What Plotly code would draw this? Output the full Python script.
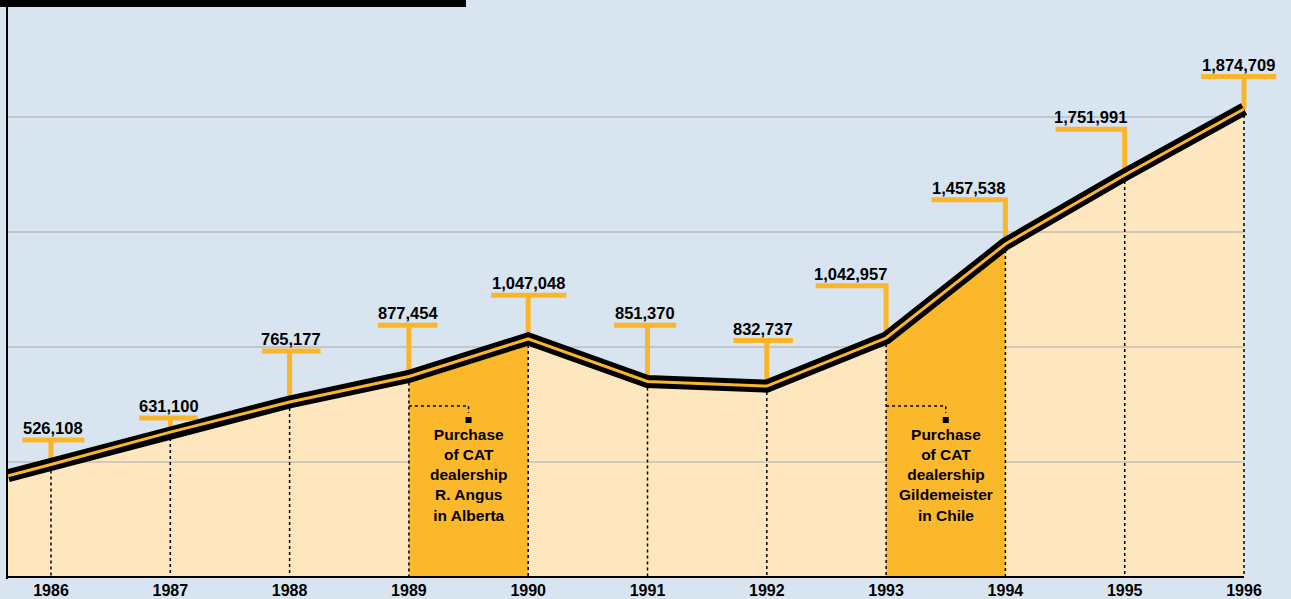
import plotly.graph_objects as go

# ---------------- data ----------------
years = [1986, 1987, 1988, 1989, 1990, 1991, 1992, 1993, 1994, 1995, 1996]
value_labels = ["526,108", "631,100", "765,177", "877,454", "1,047,048", "851,370",
                "832,737", "1,042,957", "1,457,538", "1,751,991", "1,874,709"]
# level at which the drawn line sits for each year (0-based axis)
line_level = [489000, 630000, 761000, 872000, 1035000, 850000, 830000,
              1039000, 1448000, 1748000, 2035000]
axis_start_level = 440000          # where the line meets the left axis
grid_levels = [500000, 1000000, 1500000, 2000000]

acq_start = [1989, 1993]
acq_end = [1990, 1994]
acq_text = ["Purchase<br>of CAT<br>dealership<br>R. Angus<br>in Alberta",
            "Purchase<br>of CAT<br>dealership<br>Gildemeister<br>in Chile"]

# label tag placement (styling)
tag_level = [596000, 691000, 983000, 1095000, 1225000, 1095000, 1028000,
             1266000, 1640000, 1947000, 2176000]
tag_left = [-0.24, -0.26, -0.23, -0.26, -0.31, -0.28, -0.28, -0.59, -0.62, -0.58, -0.36]
tag_right = [0.28, 0.23, 0.26, 0.24, 0.32, 0.24, 0.22, 0.0, 0.0, 0.0, 0.27]

# ---------------- style ----------------
BG = "#d8e5f0"
LIGHT = "#fee6bf"
DARK = "#fcb82b"
ORANGE = "#fbb52a"
GRID = "#a6abb0"
FONT = "Liberation Sans, Arial, sans-serif"

W, H = 1291, 599
ML, MR, MT, MB = 8, 0, 0, 20
PX = 500000 / 115.0                  # data units per pixel
X_MIN = 1986 - 43 / 119.3
X_MAX = 1996 + 47 / 119.3
Y_MIN, Y_MAX = -2 * PX, 577 * PX

fig = go.Figure()

x_line = [X_MIN] + years
y_line = [axis_start_level] + line_level

# light fill
fig.add_trace(go.Scatter(x=x_line, y=y_line, mode="lines", fill="tozeroy",
                         fillcolor=LIGHT, line=dict(width=0, color=LIGHT),
                         hoverinfo="skip"))
# gridlines
gx, gy = [], []
for g in grid_levels:
    gx += [X_MIN, years[-1], None]
    gy += [g, g, None]
fig.add_trace(go.Scatter(x=gx, y=gy, mode="lines", line=dict(width=1.2, color=GRID),
                         hoverinfo="skip"))
# dark fills for acquisition years
for s, e in zip(acq_start, acq_end):
    i0, i1 = years.index(s), years.index(e)
    fig.add_trace(go.Scatter(x=years[i0:i1 + 1], y=line_level[i0:i1 + 1], mode="lines",
                             fill="tozeroy", fillcolor=DARK,
                             line=dict(width=0, color=DARK), hoverinfo="skip"))
# bottom axis line
fig.add_trace(go.Scatter(x=[X_MIN, years[-1]], y=[0, 0], mode="lines",
                         line=dict(width=2, color="black"), hoverinfo="skip"))
# dotted verticals
dx, dy = [], []
for yr, lv in zip(years, line_level):
    dx += [yr, yr, None]
    dy += [lv, 0, None]
fig.add_trace(go.Scatter(x=dx, y=dy, mode="lines",
                         line=dict(width=1.5, color="black", dash="3px,3px"),
                         hoverinfo="skip"))
# acquisition connectors
CONN_Y = (577 - 406) * PX
CONN_Y2 = (577 - 413) * PX
SQ_Y = (577 - 420) * PX
TXT_Y = (577 - 424) * PX
cx, cy, sx, sy = [], [], [], []
for s in acq_start:
    mid = s + 0.5
    cx += [s, mid, mid, None]
    cy += [CONN_Y, CONN_Y, CONN_Y2, None]
    sx.append(mid)
    sy.append(SQ_Y)
fig.add_trace(go.Scatter(x=cx, y=cy, mode="lines",
                         line=dict(width=1.5, color="black", dash="3px,3px"),
                         hoverinfo="skip"))
fig.add_trace(go.Scatter(x=sx, y=sy, mode="markers",
                         marker=dict(symbol="square", size=6, color="black",
                                     line=dict(width=0)), hoverinfo="skip"))
# label tags (T / L shapes)
tx, ty = [], []
for yr, lv, tl, tr, tlv in zip(years, line_level, tag_left, tag_right, tag_level):
    if tr == 0.0:
        tx += [yr + tl, yr, yr, None]
        ty += [tlv, tlv, lv, None]
    else:
        tx += [yr + tl, yr + tr, None, yr, yr, None]
        ty += [tlv, tlv, None, tlv, lv, None]
fig.add_trace(go.Scatter(x=tx, y=ty, mode="lines",
                         line=dict(width=5, color=ORANGE), hoverinfo="skip"))
# main line
fig.add_trace(go.Scatter(x=x_line, y=y_line, mode="lines",
                         line=dict(width=13, color="black"), hoverinfo="skip"))
fig.add_trace(go.Scatter(x=x_line, y=y_line, mode="lines",
                         line=dict(width=3, color=ORANGE), hoverinfo="skip"))

annotations = []
for yr, lab, tl, tr, tlv in zip(years, value_labels, tag_left, tag_right, tag_level):
    annotations.append(dict(x=yr + (tl + tr) / 2, y=tlv, xref="x", yref="y",
                            text=lab, showarrow=False, xanchor="center",
                            yanchor="middle", yshift=12,
                            font=dict(family=FONT, size=16.5, color="black", weight="bold")))
for s, t in zip(acq_start, acq_text):
    annotations.append(dict(x=s + 0.5, y=TXT_Y, xref="x", yref="y", text=t,
                            showarrow=False, xanchor="center", yanchor="top",
                            align="center",
                            font=dict(family=FONT, size=15.5, color="black", weight="bold")))

fig.update_layout(
    width=W, height=H,
    margin=dict(l=ML, r=MR, t=MT, b=MB, pad=0),
    paper_bgcolor=BG, plot_bgcolor="rgba(0,0,0,0)",
    showlegend=False,
    annotations=annotations,
    shapes=[dict(type="rect", xref="paper", yref="paper",
                 x0=-ML / (W - ML), x1=(466 - ML) / (W - ML),
                 y0=1 - 7 / (H - MB), y1=1,
                 fillcolor="black", line=dict(width=0), layer="above")],
    xaxis=dict(range=[X_MIN, X_MAX], tickvals=years, ticktext=[str(y) for y in years],
               showgrid=False, zeroline=False, showline=False, ticks="",
               tickfont=dict(family=FONT, size=16, color="black", weight="bold")),
    yaxis=dict(range=[Y_MIN, Y_MAX], showgrid=False, zeroline=False,
               showticklabels=False, showline=True, linecolor="black", linewidth=2,
               ticks=""),
)

fig.write_html("out.html",
               config={"displayModeBar": False},
               post_script="document.body.style.margin='0';"
                           "document.body.style.overflow='hidden';")
